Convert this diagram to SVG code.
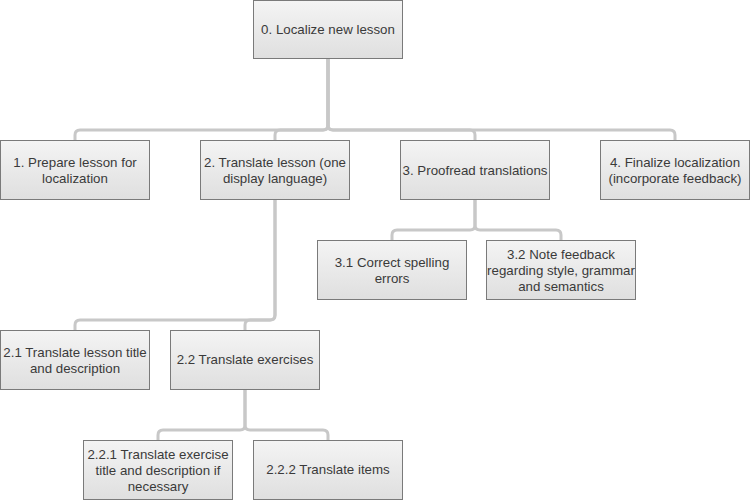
<svg xmlns="http://www.w3.org/2000/svg" width="750" height="500" viewBox="0 0 750 500">
<defs>
<linearGradient id="g" x1="0" y1="0" x2="0" y2="1">
<stop offset="0" stop-color="#f4f4f4"/>
<stop offset="1" stop-color="#dfdfdf"/>
</linearGradient>
<style>
.n rect{fill:url(#g);stroke:#7a7a7a;stroke-width:1}
.n text{font-family:"Liberation Sans",Arial,sans-serif;font-size:13.3px;fill:#3a3a3a;text-anchor:middle}
#connectors path{fill:none;stroke:#c8c8c8;stroke-width:3}
</style>
</defs>
<rect width="750" height="500" fill="#fff"/>
<g id="connectors">
<path d="M328 59 V125 Q328 130 323 130 H80 Q75 130 75 135 V140"/>
<path d="M328 59 V125 Q328 130 323 130 H280 Q275 130 275 135 V140"/>
<path d="M328 59 V125 Q328 130 333 130 H470 Q475 130 475 135 V140"/>
<path d="M328 59 V125 Q328 130 333 130 H670 Q675 130 675 135 V140"/>
<path d="M275 200 V315 Q275 320 270 320 H80 Q75 320 75 325 V330"/>
<path d="M275 200 V315 Q275 320 270 320 H250 Q245 320 245 325 V330"/>
<path d="M475 200 V225 Q475 230 470 230 H397 Q392 230 392 235 V240"/>
<path d="M475 200 V225 Q475 230 480 230 H556 Q561 230 561 235 V240"/>
<path d="M245 390 V425 Q245 430 240 430 H163 Q158 430 158 435 V440"/>
<path d="M245 390 V425 Q245 430 250 430 H323 Q328 430 328 435 V440"/>
</g>
<g id="n0" class="n"><rect x="253.5" y="0.5" width="149" height="58"/><text x="328" y="34">0. Localize new lesson</text></g>
<g id="n1" class="n"><rect x="0.5" y="140.5" width="149" height="59"/><text x="75" y="166.5">1. Prepare lesson for</text><text x="75" y="182.5">localization</text></g>
<g id="n2" class="n"><rect x="200.5" y="140.5" width="149" height="59"/><text x="275" y="166.5">2. Translate lesson (one</text><text x="275" y="182.5">display language)</text></g>
<g id="n3" class="n"><rect x="400.5" y="140.5" width="149" height="59"/><text x="475" y="174.5">3. Proofread translations</text></g>
<g id="n4" class="n"><rect x="600.5" y="140.5" width="149" height="59"/><text x="675" y="166.5">4. Finalize localization</text><text x="675" y="182.5">(incorporate feedback)</text></g>
<g id="n3_1" class="n"><rect x="317.5" y="240.5" width="149" height="59"/><text x="392" y="266.5">3.1 Correct spelling</text><text x="392" y="282.5">errors</text></g>
<g id="n3_2" class="n"><rect x="486.5" y="240.5" width="149" height="59"/><text x="561" y="258.5">3.2 Note feedback</text><text x="561" y="274.5">regarding style, grammar</text><text x="561" y="290.5">and semantics</text></g>
<g id="n2_1" class="n"><rect x="0.5" y="330.5" width="149" height="59"/><text x="75" y="356.5">2.1 Translate lesson title</text><text x="75" y="372.5">and description</text></g>
<g id="n2_2" class="n"><rect x="170.5" y="330.5" width="149" height="59"/><text x="245" y="363.5">2.2 Translate exercises</text></g>
<g id="n2_2_1" class="n"><rect x="83.5" y="440.5" width="149" height="59"/><text x="158" y="459">2.2.1 Translate exercise</text><text x="158" y="475">title and description if</text><text x="158" y="491">necessary</text></g>
<g id="n2_2_2" class="n"><rect x="253.5" y="440.5" width="149" height="59"/><text x="328" y="473.5">2.2.2 Translate items</text></g>
</svg>
